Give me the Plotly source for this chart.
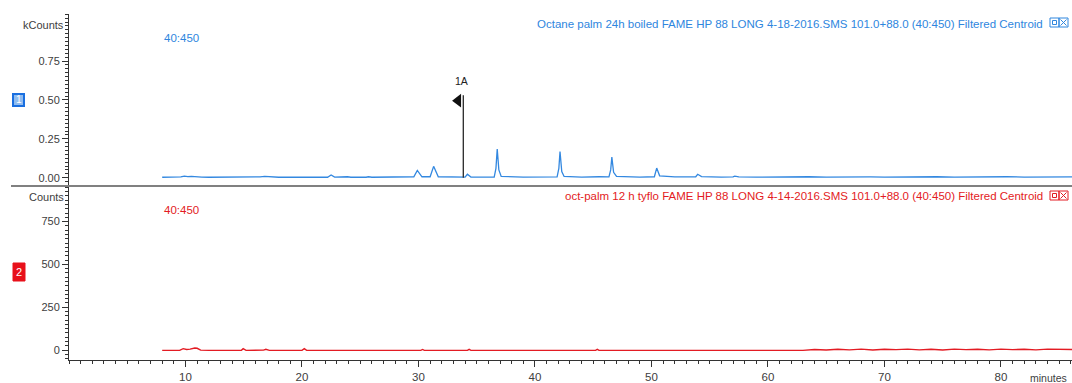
import plotly.graph_objects as go

# ---------------- data ----------------
# Trace 1: Octane palm 24h boiled (kCounts)
t_top = [8.0, 9.0, 9.6, 9.9, 10.2, 10.5, 10.9, 11.4, 12.0, 13.5, 14.6, 15.0, 15.4, 15.9,
         16.4, 16.8, 17.3, 18.0, 20.0, 22.2, 22.5, 22.8, 23.9, 24.2, 25.5, 25.7, 26.0,
         28.0, 29.6, 29.9, 30.3, 31.0, 31.3, 31.7, 32.9, 33.6, 34.0, 34.2, 34.5, 36.5,
         36.65, 36.76, 36.9, 37.1, 39.0, 41.9, 42.05, 42.15, 42.3, 42.5, 44.0, 45.5,
         46.35, 46.5, 46.6, 46.75, 47.0, 49.0, 50.25, 50.45, 50.7, 52.0, 53.8, 53.97,
         54.3, 56.0, 57.0, 57.15, 57.5, 59.0, 60.5, 62.0, 63.5, 65.0, 66.5, 68.4, 68.6,
         68.8, 70.0, 71.5, 73.0, 74.5, 76.0, 77.5, 79.0, 80.5, 82.0, 83.5, 85.0, 86.1]
v_top = [0.003, 0.003, 0.005, 0.010, 0.007, 0.009, 0.006, 0.004, 0.003, 0.003, 0.004,
         0.006, 0.005, 0.007, 0.005, 0.008, 0.004, 0.003, 0.003, 0.003, 0.017, 0.004,
         0.006, 0.003, 0.003, 0.006, 0.003, 0.003, 0.006, 0.047, 0.006, 0.006, 0.073,
         0.006, 0.006, 0.004, 0.004, 0.022, 0.004, 0.004, 0.060, 0.184, 0.050, 0.008,
         0.004, 0.005, 0.060, 0.168, 0.040, 0.008, 0.004, 0.006, 0.005, 0.050, 0.132,
         0.035, 0.008, 0.004, 0.006, 0.062, 0.012, 0.005, 0.006, 0.022, 0.007, 0.004,
         0.005, 0.010, 0.005, 0.004, 0.006, 0.004, 0.006, 0.004, 0.006, 0.005, 0.009,
         0.005, 0.004, 0.006, 0.004, 0.006, 0.004, 0.006, 0.004, 0.006, 0.004, 0.006,
         0.004, 0.005]

# Trace 2: oct-palm 12 h tyflo (Counts)
t_bot = [8.0, 9.5, 9.8, 10.1, 10.4, 10.8, 11.0, 11.3, 12.0, 13.2, 13.4, 14.8, 14.95,
         15.2, 16.7, 16.9, 17.2, 20.0, 20.2, 20.4, 25.0, 30.2, 30.35, 30.5, 34.2, 34.35,
         34.5, 40.0, 45.2, 45.35, 45.5, 55.0, 63.0, 64.0, 65.0, 66.0, 67.0, 68.0, 69.0,
         70.0, 71.0, 72.0, 73.0, 74.0, 75.0, 76.0, 77.0, 78.0, 79.0, 80.0, 81.0, 82.0,
         83.0, 84.0, 85.0, 86.1]
v_bot = [-2, -2, 8, 3, 5, 12, 10, -1, -2, -2, 2, -2, 8, -2, -1, 4, -2, -2, 8, -2, -2,
         -2, 3, -2, -2, 4, -2, -2, -2, 4, -2, -2, -2, 3, 0, 4, 1, 5, 0, 4, 2, 5, 1, 4,
         0, 5, 2, 4, 1, 5, 2, 4, 1, 5, 2, 3]

top_title = "Octane palm 24h boiled FAME HP 88 LONG 4-18-2016.SMS 101.0+88.0 (40:450) Filtered Centroid"
bot_title = "oct-palm 12 h tyflo FAME HP 88 LONG 4-14-2016.SMS 101.0+88.0 (40:450) Filtered Centroid"
range_label = "40:450"

top_ticks = [0.0, 0.25, 0.5, 0.75]
top_ticktext = ["0.00", "0.25", "0.50", "0.75"]
bot_ticks = [0, 250, 500, 750]
x_ticks = [10, 20, 30, 40, 50, 60, 70, 80]

marker_label = "1A"
marker_time = 33.85
marker_height = 0.53

# ---------------- styling ----------------
W, H = 1072, 383
BLUE = "#3388e0"
BLUE_TXT = "#2e86de"
RED = "#e31b23"
AXC = "#333333"
FONT = "Arial, Liberation Sans, sans-serif"

def px_x(p):
    return p / W

def px_y(p):
    return 1 - p / H

x0_dom = px_x(69)
top_dom = [px_y(186), px_y(14)]
bot_dom = [px_y(360), px_y(186)]

fig = go.Figure()
fig.add_trace(go.Scatter(x=t_top, y=v_top, mode="lines", line=dict(color=BLUE, width=1.3),
                         xaxis="x", yaxis="y", hoverinfo="skip"))
fig.add_trace(go.Scatter(x=t_bot, y=v_bot, mode="lines", line=dict(color=RED, width=1.4),
                         xaxis="x2", yaxis="y2", hoverinfo="skip"))
# peak marker 1A
fig.add_trace(go.Scatter(x=[marker_time, marker_time], y=[0, marker_height], mode="lines",
                         line=dict(color="#333333", width=1.4), xaxis="x", yaxis="y",
                         hoverinfo="skip"))
fig.add_trace(go.Scatter(x=[marker_time - 0.45], y=[marker_height - 0.035], mode="markers",
                         marker=dict(symbol="triangle-left", size=12, color="#111111",
                                     line=dict(width=0)),
                         xaxis="x", yaxis="y", hoverinfo="skip"))

common_y = dict(showline=True, linecolor=AXC, linewidth=1, ticks="outside", ticklen=6,
                tickcolor=AXC, showgrid=False, zeroline=False,
                tickfont=dict(family=FONT, size=11, color="#404040"))

fig.update_layout(
    width=W, height=H, autosize=False,
    margin=dict(l=0, r=0, t=0, b=0),
    paper_bgcolor="white", plot_bgcolor="white",
    showlegend=False,
    font=dict(family=FONT, size=11),
    xaxis=dict(domain=[x0_dom, 1], range=[0, 86.1], anchor="y", showticklabels=False,
               showline=False, showgrid=False, zeroline=False, ticks=""),
    xaxis2=dict(domain=[x0_dom, 1], range=[0, 86.1], anchor="y2", matches="x",
                showline=True, linecolor=AXC, linewidth=1, ticks="outside", ticklen=6,
                tickcolor=AXC, tickvals=x_ticks, showgrid=False, zeroline=False,
                tickfont=dict(family=FONT, size=11.5, color="#404040"),
                minor=dict(dtick=1, ticklen=3, tickcolor=AXC, ticks="outside")),
    yaxis=dict(domain=top_dom, range=[-0.0533, 1.052], anchor="x",
               tickvals=top_ticks, ticktext=top_ticktext,
               minor=dict(dtick=0.025, tick0=0, ticklen=3, tickcolor=AXC, ticks="outside"),
               **common_y),
    yaxis2=dict(domain=bot_dom, range=[-58.4, 958], anchor="x2",
                tickvals=bot_ticks,
                minor=dict(dtick=25, tick0=0, ticklen=3, tickcolor=AXC, ticks="outside"),
                **common_y),
)

shapes = []
# separator between panels
shapes.append(dict(type="line", xref="paper", yref="paper", x0=px_x(11), x1=1,
                   y0=px_y(186), y1=px_y(186), line=dict(color="#808080", width=2)))
# trace number boxes
shapes.append(dict(type="rect", xref="paper", yref="paper", x0=px_x(13), x1=px_x(24),
                   y0=px_y(106), y1=px_y(94), fillcolor="#8fbcf0",
                   line=dict(color="#1a6fe0", width=2)))
shapes.append(dict(type="rect", xref="paper", yref="paper", x0=px_x(13), x1=px_x(25),
                   y0=px_y(281), y1=px_y(263), fillcolor="#e8101a",
                   line=dict(color="#e8101a", width=1)))
# small window icons at right of titles
for yc, col in ((22.5, BLUE_TXT), (195.5, RED)):
    shapes.append(dict(type="rect", xref="paper", yref="paper", x0=px_x(1050), x1=px_x(1059),
                       y0=px_y(yc + 4.5), y1=px_y(yc - 4.5), line=dict(color=col, width=1)))
    shapes.append(dict(type="rect", xref="paper", yref="paper", x0=px_x(1052.5), x1=px_x(1056.5),
                       y0=px_y(yc + 2), y1=px_y(yc - 2), line=dict(color=col, width=1)))
    shapes.append(dict(type="rect", xref="paper", yref="paper", x0=px_x(1059), x1=px_x(1068),
                       y0=px_y(yc + 4.5), y1=px_y(yc - 4.5), line=dict(color=col, width=1)))
    shapes.append(dict(type="line", xref="paper", yref="paper", x0=px_x(1060.5), x1=px_x(1066.5),
                       y0=px_y(yc + 3), y1=px_y(yc - 3), line=dict(color=col, width=1)))
    shapes.append(dict(type="line", xref="paper", yref="paper", x0=px_x(1060.5), x1=px_x(1066.5),
                       y0=px_y(yc - 3), y1=px_y(yc + 3), line=dict(color=col, width=1)))
fig.update_layout(shapes=shapes)

def ann(text, x, y, xanchor="left", color="#404040", size=11):
    return dict(text=text, xref="paper", yref="paper", x=px_x(x), y=px_y(y),
                xanchor=xanchor, yanchor="middle", showarrow=False,
                font=dict(family=FONT, size=size, color=color))

anns = [
    ann("kCounts", 66, 25, "right"),
    ann("Counts", 66, 197, "right"),
    ann(top_title, 1045, 24, "right", BLUE_TXT, 11.5),
    ann(bot_title, 1045, 196, "right", RED, 11.5),
    ann(range_label, 162, 38, "left", BLUE_TXT, 11.5),
    ann(range_label, 162, 210, "left", RED, 11.5),
    ann("1", 18.5, 100, "center", "#ffffff", 10),
    ann("2", 19, 272, "center", "#ffffff", 11),
    ann("minutes", 1069, 378, "right", "#404040", 10.5),
]
anns.append(dict(text=marker_label, x=marker_time, y=marker_height, xref="x", yref="y",
                 yshift=14, xshift=-2, showarrow=False, xanchor="center", yanchor="middle",
                 font=dict(family=FONT, size=10.5, color="#222222")))
fig.update_layout(annotations=anns)

fig.write_html("out.html")
